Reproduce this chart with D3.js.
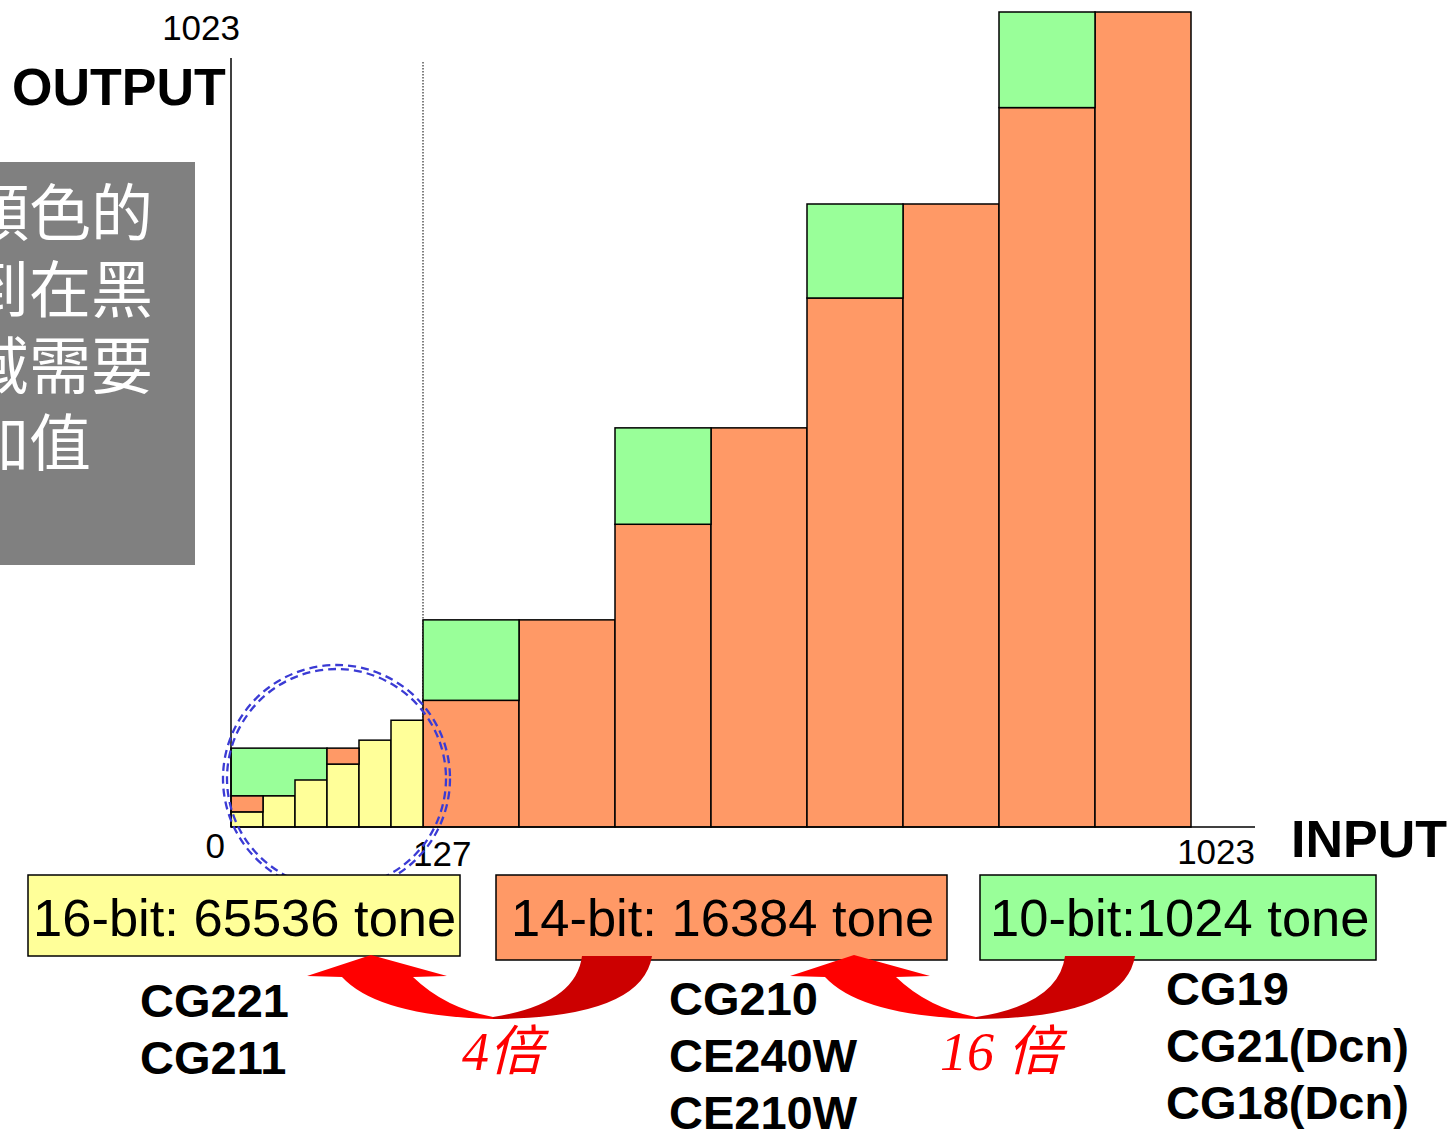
<!DOCTYPE html>
<html>
<head>
<meta charset="utf-8">
<script src="https://cdn.jsdelivr.net/npm/d3@7"></script>
<style>
  body { margin: 0; background: #fff; }
  svg { display: block; }
  .bar { stroke: #000; stroke-width: 1.5; }
</style>
</head>
<body>
<script>
// output levels (0..1023)
var bigOrange = [159, 260, 380, 501, 664, 782, 903, 1023],   // 8 coarse input steps
    bigGreen  = [260, null, 501, null, 782, null, 1023, null]; // 10-bit level on top of 14-bit
var smallYellow = [19, 39, 59, 79, 109, 134],                  // 6 fine steps below 127
    smallOrange = [39, null, null, 99, null, null],
    smallGreen  = [{first: 0, last: 2, lo: 39, hi: 99}];

var xTickLabels = ["0", "127", "1023"],
    yTickLabel = "1023";

var tones = ["16-bit: 65536 tone", "14-bit: 16384 tone", "10-bit:1024 tone"],
    toneColors = ["#ffff99", "#ff9966", "#99ff99"],
    models = [["CG221", "CG211"], ["CG210", "CE240W", "CE210W"], ["CG19", "CG21(Dcn)", "CG18(Dcn)"]],
    factors = ["4倍", "16 倍"],
    noteLines = ["顏色的", "到在黑", "域需要", "加值"];

var W = 1452, H = 1132;
var x0 = 231, xSplit = 423, xEnd = 1191, xAxisEnd = 1255;

var svg = d3.select("body").append("svg")
    .attr("width", W).attr("height", H);

var y = d3.scaleLinear().domain([0, 1023]).range([827, 12]);
var xSmall = d3.scaleBand().domain(d3.range(smallYellow.length)).range([x0, xSplit]);
var xBig = d3.scaleBand().domain(d3.range(bigOrange.length)).range([xSplit, xEnd]);

// grey note box (cut off at left edge)
svg.append("rect").attr("x", 0).attr("y", 162).attr("width", 195).attr("height", 403)
    .attr("fill", "#808080");
svg.append("g").selectAll("text")
    .data(noteLines)
  .enter().append("text")
    .attr("x", -33)
    .attr("y", function(d, i) { return 236 + i * 76.7; })
    .attr("fill", "#fff")
    .style("font-family", "'Noto Sans CJK TC', sans-serif")
    .style("font-size", "62px")
    .text(String);

// dotted guide at 127
svg.append("line")
    .attr("x1", xSplit).attr("x2", xSplit).attr("y1", 62).attr("y2", y(0))
    .attr("stroke", "#000").attr("stroke-width", 1).attr("stroke-dasharray", "1.5,1.5");

// big bars: orange then green on top
var big = svg.append("g");
big.selectAll(".orange")
    .data(bigOrange)
  .enter().append("rect")
    .attr("class", "bar")
    .attr("x", function(d, i) { return xBig(i); })
    .attr("width", xBig.bandwidth())
    .attr("y", function(d) { return y(d); })
    .attr("height", function(d) { return y(0) - y(d); })
    .attr("fill", toneColors[1]);
big.selectAll(".green")
    .data(bigGreen.map(function(v, i) { return {i: i, hi: v, lo: bigOrange[i]}; })
                  .filter(function(d) { return d.hi !== null; }))
  .enter().append("rect")
    .attr("class", "bar")
    .attr("x", function(d) { return xBig(d.i); })
    .attr("width", xBig.bandwidth())
    .attr("y", function(d) { return y(d.hi); })
    .attr("height", function(d) { return y(d.lo) - y(d.hi); })
    .attr("fill", toneColors[2]);

// small bars below 127
var small = svg.append("g");
small.selectAll(".green")
    .data(smallGreen)
  .enter().append("rect")
    .attr("class", "bar")
    .attr("x", function(d) { return xSmall(d.first); })
    .attr("width", function(d) { return xSmall(d.last) + xSmall.bandwidth() - xSmall(d.first); })
    .attr("y", function(d) { return y(d.hi); })
    .attr("height", function(d) { return y(d.lo) - y(d.hi); })
    .attr("fill", toneColors[2]);
small.selectAll(".yellow")
    .data(smallYellow)
  .enter().append("rect")
    .attr("class", "bar")
    .attr("x", function(d, i) { return xSmall(i); })
    .attr("width", xSmall.bandwidth())
    .attr("y", function(d) { return y(d); })
    .attr("height", function(d) { return y(0) - y(d); })
    .attr("fill", toneColors[0]);
small.selectAll(".orange")
    .data(smallOrange.map(function(v, i) { return {i: i, hi: v, lo: smallYellow[i]}; })
                     .filter(function(d) { return d.hi !== null; }))
  .enter().append("rect")
    .attr("class", "bar")
    .attr("x", function(d) { return xSmall(d.i); })
    .attr("width", xSmall.bandwidth())
    .attr("y", function(d) { return y(d.hi); })
    .attr("height", function(d) { return y(d.lo) - y(d.hi); })
    .attr("fill", toneColors[1]);

// axes
svg.append("line").attr("x1", x0).attr("x2", x0).attr("y1", 58).attr("y2", y(0))
    .attr("stroke", "#000").attr("stroke-width", 1.5);
svg.append("line").attr("x1", x0).attr("x2", xAxisEnd).attr("y1", y(0)).attr("y2", y(0))
    .attr("stroke", "#000").attr("stroke-width", 1.5);

var tickFont = "'Liberation Sans', Arial, sans-serif";
svg.append("text").attr("x", 225).attr("y", 858).attr("text-anchor", "end")
    .style("font-family", tickFont).style("font-size", "35px").text(xTickLabels[0]);
svg.append("text").attr("x", 413).attr("y", 866)
    .style("font-family", tickFont).style("font-size", "35px").text(xTickLabels[1]);
svg.append("text").attr("x", xAxisEnd).attr("y", 864).attr("text-anchor", "end")
    .style("font-family", tickFont).style("font-size", "35px").text(xTickLabels[2]);
svg.append("text").attr("x", 240).attr("y", 40).attr("text-anchor", "end")
    .style("font-family", tickFont).style("font-size", "35px").text(yTickLabel);

svg.append("text").attr("x", 12).attr("y", 105)
    .style("font-family", tickFont).style("font-size", "52px").style("font-weight", "bold")
    .text("OUTPUT");
svg.append("text").attr("x", 1291).attr("y", 857)
    .style("font-family", tickFont).style("font-size", "52px").style("font-weight", "bold")
    .text("INPUT");

// blue double dashed circle round the fine steps
[109.5, 113.5].forEach(function(r) {
  svg.append("circle").attr("cx", 336.5).attr("cy", 778.5).attr("r", r)
      .attr("fill", "none").attr("stroke", "#3b3bd4").attr("stroke-width", 2.3)
      .attr("stroke-dasharray", "8,5");
});

// tone boxes
var boxes = [
  {x: 28, y: 875, w: 432, h: 81, tx: 33},
  {x: 496, y: 875, w: 451, h: 85, tx: 511},
  {x: 980, y: 875, w: 396, h: 85, tx: 990}
];
var legend = svg.append("g").selectAll("g")
    .data(tones)
  .enter().append("g");
legend.append("rect")
    .attr("x", function(d, i) { return boxes[i].x; })
    .attr("y", function(d, i) { return boxes[i].y; })
    .attr("width", function(d, i) { return boxes[i].w; })
    .attr("height", function(d, i) { return boxes[i].h; })
    .attr("fill", function(d, i) { return toneColors[i]; })
    .attr("stroke", "#000").attr("stroke-width", 1.5);
legend.append("text")
    .attr("x", function(d, i) { return boxes[i].tx; })
    .attr("y", 936)
    .style("font-family", tickFont).style("font-size", "52.5px")
    .text(String);

// model names
var modelPos = [{x: 140, y: 1017}, {x: 669, y: 1015}, {x: 1166, y: 1005}];
models.forEach(function(list, i) {
  svg.append("g").selectAll("text")
      .data(list)
    .enter().append("text")
      .attr("x", modelPos[i].x)
      .attr("y", function(d, j) { return modelPos[i].y + j * 57; })
      .style("font-family", tickFont).style("font-size", "47px").style("font-weight", "bold")
      .text(String);
});

// curved arrows (right half dark red, left half with the head bright red)
var arrowShift = [0, 483];
arrowShift.forEach(function(dx) {
  var g = svg.append("g").attr("transform", "translate(" + dx + ",0)");
  g.append("path")
      .attr("d", "M582,956 L652,956 Q642,1018 493,1019 L493,1017 Q576,1004 582,956 Z")
      .attr("fill", "#cc0000");
  g.append("path")
      .attr("d", "M371,955 L447,976 L413,977 Q445,1008 493,1017 L493,1019 Q378,1016 342,977 L307,976 Z")
      .attr("fill", "#ff0000");
});

// factor labels
var factorPos = [{x: 462, y: 1070}, {x: 940, y: 1070}];
svg.append("g").selectAll("text")
    .data(factors)
  .enter().append("text")
    .attr("x", function(d, i) { return factorPos[i].x; })
    .attr("y", function(d, i) { return factorPos[i].y; })
    .attr("fill", "#ff0000")
    .style("font-family", "'Liberation Serif', 'Noto Sans CJK TC', serif")
    .style("font-style", "italic")
    .style("font-size", "54px")
    .text(String);
</script>
</body>
</html>
